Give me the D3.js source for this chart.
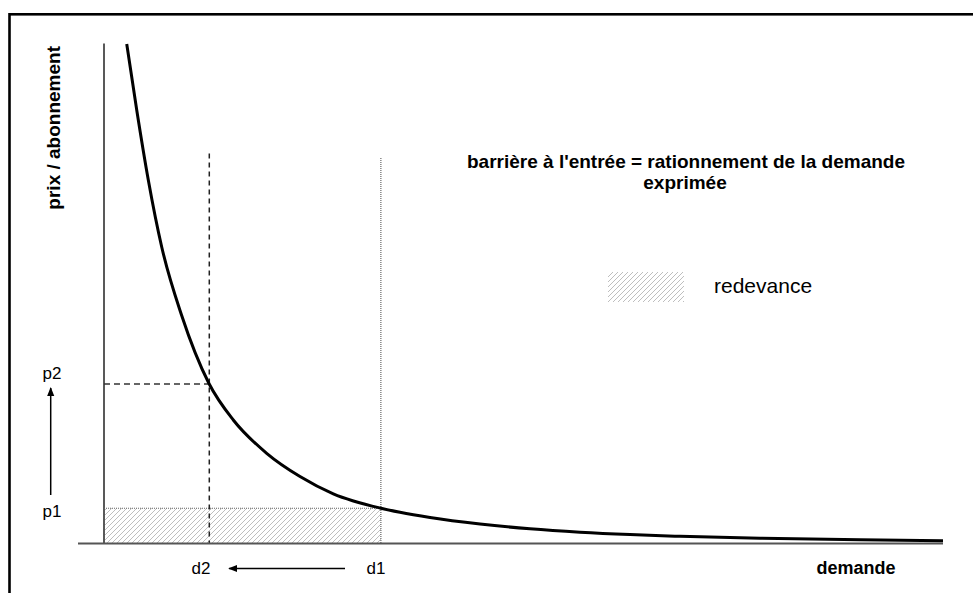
<!DOCTYPE html>
<html><head><meta charset="utf-8">
<script src="https://cdn.jsdelivr.net/npm/d3@7"></script>
<style>html,body{margin:0;padding:0;background:#fff;}svg{display:block;}</style>
</head><body>
<svg id="c" width="973" height="593"></svg>
<script>
// Demand curve
const demande = [2.71, 3.9, 5.28, 6.88, 9.26, 12.51, 15.41, 19.39, 23.36, 27.33, 32.9, 35.28, 38.86, 44.82, 50.77, 56.73, 62.69, 68.65, 78.19, 90.11, 100];
const prix    = [99.9, 86.7, 72.7, 59.3, 45.6, 32.0, 24.7, 18.04, 13.4, 9.94, 7.1, 6.24, 5.2, 3.9, 2.94, 2.26, 1.78, 1.44, 1.06, 0.74, 0.54];
// reference levels
const niveauxDemande = {d2: 12.55, d1: 33};
const niveauxPrix = {p2: 31.9, p1: 7.05};
const hautRepere = 78;
const labels = {
  title1: "barrière à l'entrée = rationnement de la demande",
  title2: "exprimée",
  legend: "redevance",
  yLabel: "prix / abonnement",
  xLabel: "demande"
};

const svg = d3.select("#c");
const x = d3.scaleLinear().domain([0, 100]).range([104, 943]);
const y = d3.scaleLinear().domain([0, 100]).range([543.5, 43.5]);

// frame
svg.append("rect").attr("x", 9.5).attr("y", 14.3).attr("width", 1000).attr("height", 700)
  .attr("fill", "none").attr("stroke", "#000").attr("stroke-width", 2.6);

const defs = svg.append("defs");
const pat = defs.append("pattern").attr("id", "hatch").attr("patternUnits", "userSpaceOnUse")
  .attr("width", 5).attr("height", 5);
pat.append("rect").attr("width", 5).attr("height", 5).attr("fill", "#fff");
pat.append("path").attr("d", "M-1,6 L6,-1 M-1,1 L1,-1 M4,6 L6,4").attr("stroke", "#adadad").attr("stroke-width", 0.8);

const d1 = niveauxDemande.d1, d2 = niveauxDemande.d2, p1 = niveauxPrix.p1, p2 = niveauxPrix.p2;

// hatched redevance area
svg.append("rect").attr("x", x(0) + 1).attr("y", y(p1)).attr("width", x(d1) - x(0) - 1)
  .attr("height", y(0) - y(p1)).attr("fill", "url(#hatch)");

// y axis
svg.append("line").attr("x1", x(0)).attr("x2", x(0)).attr("y1", y(100)).attr("y2", y(0))
  .attr("stroke", "#222").attr("stroke-width", 1.5);

// dotted lines at d1 / p1
svg.append("line").attr("x1", x(d1)).attr("x2", x(d1)).attr("y1", y(hautRepere - 0.9)).attr("y2", y(0))
  .attr("stroke", "#666").attr("stroke-width", 1.2).attr("stroke-dasharray", "1,1");
svg.append("line").attr("x1", x(0)).attr("x2", x(d1)).attr("y1", y(p1)).attr("y2", y(p1))
  .attr("stroke", "#666").attr("stroke-width", 1.2).attr("stroke-dasharray", "1,1");

// dashed lines at d2 / p2
svg.append("line").attr("x1", x(d2)).attr("x2", x(d2)).attr("y1", y(hautRepere)).attr("y2", y(0))
  .attr("stroke", "#222").attr("stroke-width", 1.5).attr("stroke-dasharray", "5,4");
svg.append("line").attr("x1", x(0)).attr("x2", x(d2)).attr("y1", y(p2)).attr("y2", y(p2))
  .attr("stroke", "#333").attr("stroke-width", 1.5).attr("stroke-dasharray", "6,4");

// x axis
svg.append("line").attr("x1", x(0) - 26).attr("x2", x(100)).attr("y1", y(0)).attr("y2", y(0))
  .attr("stroke", "#555").attr("stroke-width", 2.2);

// curve
const pts = demande.map((d, i) => [d, prix[i]]);
svg.append("path").datum(pts)
  .attr("d", d3.line().x(d => x(d[0])).y(d => y(d[1])).curve(d3.curveMonotoneX))
  .attr("fill", "none").attr("stroke", "#000").attr("stroke-width", 3);

// arrows
const mk = defs.append("marker").attr("id", "arr").attr("viewBox", "0 0 10 10")
  .attr("refX", 9).attr("refY", 5).attr("markerWidth", 9).attr("markerHeight", 9)
  .attr("markerUnits", "userSpaceOnUse").attr("orient", "auto");
mk.append("path").attr("d", "M0,1 L10,5 L0,9 Z").attr("fill", "#000");

svg.append("line").attr("x1", 50.7).attr("x2", 50.7).attr("y1", 495).attr("y2", 388)
  .attr("stroke", "#000").attr("stroke-width", 1.5).attr("marker-end", "url(#arr)");
svg.append("line").attr("x1", 345).attr("x2", 229).attr("y1", 568.5).attr("y2", 568.5)
  .attr("stroke", "#000").attr("stroke-width", 1.5).attr("marker-end", "url(#arr)");

const font = "Liberation Sans, Arial, sans-serif";
function txt(t, px, py, size, weight, anchor) {
  return svg.append("text").attr("x", px).attr("y", py).text(t)
    .attr("font-family", font).attr("font-size", size).attr("font-weight", weight || "normal")
    .attr("text-anchor", anchor || "start").attr("fill", "#000");
}
txt("p2", 42.5, 378.5, 17);
txt("p1", 42.5, 517, 17);
txt("d2", 191.5, 574, 17);
txt("d1", 366.5, 574, 17);
txt(labels.xLabel, 856, 574, 18, "bold", "middle");
txt(labels.title1, 686, 168, 19, "bold", "middle");
txt(labels.title2, 685, 188.5, 19, "bold", "middle");
txt(labels.legend, 714, 293, 21);
svg.append("text").attr("transform", "translate(60,46) rotate(-90)").text(labels.yLabel)
  .attr("font-family", font).attr("font-size", 19).attr("font-weight", "bold").attr("text-anchor", "end");

// legend swatch
svg.append("rect").attr("x", 608).attr("y", 272).attr("width", 76).attr("height", 30).attr("fill", "url(#hatch)");
</script>
</body></html>
